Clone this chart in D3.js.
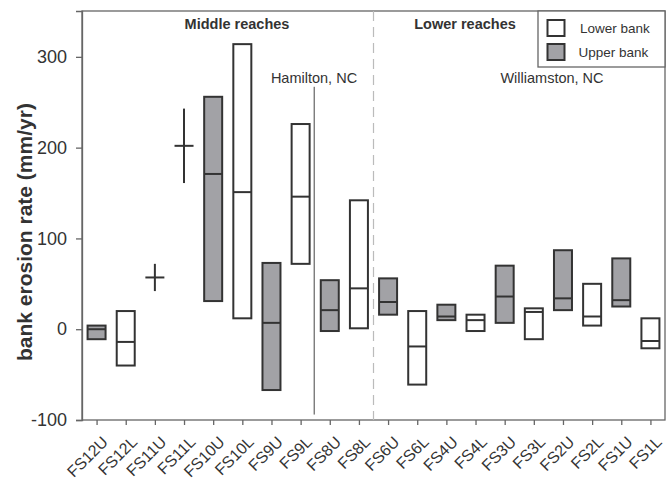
<!DOCTYPE html>
<html>
<head>
<meta charset="utf-8">
<script src="https://cdn.jsdelivr.net/npm/d3@7"></script>
<style>
  body { margin: 0; background: #fff; }
  text { font-family: "Liberation Sans", Arial, sans-serif; fill: #333; }
</style>
</head>
<body>
<div id="chart"></div>
<script>
// site names along the x axis (upstream -> downstream)
const sites = ["FS12U","FS12L","FS11U","FS11L","FS10U","FS10L","FS9U","FS9L","FS8U","FS8L",
               "FS6U","FS6L","FS4U","FS4L","FS3U","FS3L","FS2U","FS2L","FS1U","FS1L"];
// U = upper bank, L = lower bank
const bank = ["U","L","U","L","U","L","U","L","U","L","U","L","U","L","U","L","U","L","U","L"];
// box top / median / bottom (mm/yr)
const highs = [4, 20, 72, 243, 256, 314, 73, 226, 54, 142, 56, 20, 27, 16, 70, 23, 87, 50, 78, 12];
const mids  = [0, -14, 57, 202, 171, 151, 7, 146, 21, 45, 30, -19, 14, 10, 36, 19, 34, 14, 32, -13];
const lows  = [-11, -40, 42, 161, 31, 12, -67, 72, -2, 1, 16, -61, 10, -2, 7, -11, 21, 4, 25, -21];
// sites with only a range shown as a cross
const crossSites = ["FS11U","FS11L"];
const yTicks = [-100, 0, 100, 200, 300];

const margin = { top: 11, right: 7, bottom: 61, left: 82 },
  width = 672 - margin.left - margin.right,
  height = 481 - margin.top - margin.bottom;

const svg = d3.select("#chart")
  .append("svg")
  .attr("width", 672)
  .attr("height", 481)
  .append("g")
  .attr("transform", `translate(${margin.left}, ${margin.top})`);

const x = d3.scalePoint()
  .domain(sites)
  .range([0, width])
  .padding(0.5);

const y = d3.scaleLinear()
  .domain([-100, 350.5])
  .range([height, 0]);

const data = sites.map((s, i) => ({ site: s, bank: bank[i], hi: highs[i], mid: mids[i], lo: lows[i] }));
const boxW = 18;

// frame
svg.append("rect")
  .attr("width", width).attr("height", height)
  .attr("fill", "none").attr("stroke", "#666").attr("stroke-width", 1.3);

// y axis
const yAxis = svg.append("g")
  .call(d3.axisLeft(y).tickValues(yTicks).tickSize(6).tickPadding(9).tickFormat(d => String(d)));
yAxis.select(".domain").attr("stroke", "#666").attr("stroke-width", 1.3);
yAxis.selectAll(".tick line").attr("stroke", "#666").attr("stroke-width", 1.3);
yAxis.selectAll(".tick text")
  .style("font-size", "18px")
  .style("font-family", "'Liberation Sans', Arial, sans-serif")
  .attr("fill", "#333");

// x axis
const xAxis = svg.append("g")
  .attr("transform", `translate(0, ${height})`)
  .call(d3.axisBottom(x).tickSize(5).tickPadding(3));
xAxis.select(".domain").remove();
xAxis.selectAll(".tick line").attr("stroke", "#666").attr("stroke-width", 1.3);
xAxis.selectAll(".tick text")
  .style("font-size", "16px")
  .style("font-family", "'Liberation Sans', Arial, sans-serif")
  .attr("fill", "#333")
  .attr("text-anchor", "end")
  .attr("x", 0).attr("y", 0)
  .attr("dy", "0.35em")
  .attr("transform", "translate(8, 19) rotate(-45)");

// y axis label
svg.append("text")
  .attr("transform", "rotate(-90)")
  .attr("x", -y(107))
  .attr("y", -margin.left + 32)
  .attr("text-anchor", "middle")
  .style("font-size", "21px")
  .style("font-weight", "bold")
  .attr("fill", "#222")
  .text("bank erosion rate (mm/yr)");

// divider between middle and lower reaches
const divX = (x("FS8L") + x("FS6U")) / 2;
svg.append("line")
  .attr("x1", divX).attr("x2", divX)
  .attr("y1", 0).attr("y2", height)
  .attr("stroke", "#bbb").attr("stroke-width", 1.2)
  .attr("stroke-dasharray", "10,6");

// Hamilton marker line
const hamX = (x("FS9L") + x("FS8U")) / 2 - 1;
svg.append("line")
  .attr("x1", hamX).attr("x2", hamX)
  .attr("y1", y(267)).attr("y2", y(-94))
  .attr("stroke", "#444").attr("stroke-width", 1);

// boxes
const boxes = data.filter(d => !crossSites.includes(d.site));
svg.append("g")
  .selectAll("rect")
  .data(boxes)
  .join("rect")
  .attr("x", d => x(d.site) - boxW / 2)
  .attr("y", d => y(d.hi))
  .attr("width", boxW)
  .attr("height", d => y(d.lo) - y(d.hi))
  .attr("fill", d => d.bank === "U" ? "#a2a2a6" : "#fff")
  .attr("stroke", "#333")
  .attr("stroke-width", 2);

svg.append("g")
  .selectAll("line")
  .data(boxes)
  .join("line")
  .attr("x1", d => x(d.site) - boxW / 2)
  .attr("x2", d => x(d.site) + boxW / 2)
  .attr("y1", d => y(d.mid))
  .attr("y2", d => y(d.mid))
  .attr("stroke", "#333")
  .attr("stroke-width", 2);

// crosses
const crosses = data.filter(d => crossSites.includes(d.site));
const cg = svg.append("g").selectAll("g").data(crosses).join("g");
cg.append("line")
  .attr("x1", d => x(d.site)).attr("x2", d => x(d.site))
  .attr("y1", d => y(d.hi)).attr("y2", d => y(d.lo))
  .attr("stroke", "#333").attr("stroke-width", 2);
cg.append("line")
  .attr("x1", d => x(d.site) - 9.5).attr("x2", d => x(d.site) + 9.5)
  .attr("y1", d => y(d.mid)).attr("y2", d => y(d.mid))
  .attr("stroke", "#333").attr("stroke-width", 2);

// section titles
svg.append("text")
  .attr("x", 237 - margin.left).attr("y", 29 - margin.top)
  .attr("text-anchor", "middle")
  .style("font-size", "14.5px").style("font-weight", "bold")
  .attr("fill", "#222")
  .text("Middle reaches");
svg.append("text")
  .attr("x", 465 - margin.left).attr("y", 29 - margin.top)
  .attr("text-anchor", "middle")
  .style("font-size", "14.5px").style("font-weight", "bold")
  .attr("fill", "#222")
  .text("Lower reaches");

svg.append("text")
  .attr("x", 314 - margin.left).attr("y", 83 - margin.top)
  .attr("text-anchor", "middle")
  .style("font-size", "14.5px")
  .text("Hamilton, NC");
svg.append("text")
  .attr("x", 552 - margin.left).attr("y", 83 - margin.top)
  .attr("text-anchor", "middle")
  .style("font-size", "14.5px")
  .text("Williamston, NC");

// legend
const lg = svg.append("g").attr("transform", `translate(${538 - margin.left}, 0)`);
lg.append("rect")
  .attr("width", width - (538 - margin.left)).attr("height", 56)
  .attr("fill", "#fff").attr("stroke", "#666").attr("stroke-width", 1.3);
const legendItems = [["Lower bank", "#fff"], ["Upper bank", "#a2a2a6"]];
legendItems.forEach((it, i) => {
  lg.append("rect")
    .attr("x", 9.5).attr("y", 9 + i * 24)
    .attr("width", 17).attr("height", 16)
    .attr("fill", it[1]).attr("stroke", "#333").attr("stroke-width", 2);
  lg.append("text")
    .attr("x", 42 - i * 1.5).attr("y", 22 + i * 24)
    .style("font-size", "13.5px")
    .text(it[0]);
});
</script>
</body>
</html>
